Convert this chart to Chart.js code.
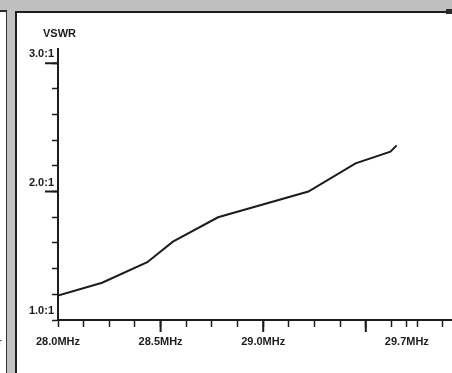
<!DOCTYPE html>
<html>
<head>
<meta charset="utf-8">
<title>VSWR</title>
<script src="https://cdn.jsdelivr.net/npm/chart.js@4/dist/chart.umd.min.js"></script>
<style>
    html, body { margin: 0; padding: 0; background: #fff; }
    #marco { position: relative; width: 452px; height: 373px; overflow: hidden; background: #fff; }
    /* franja gris de arriba y columna gris de la izquierda */
    #arriba { position: absolute; left: 0; top: 0; width: 452px; height: 11px; background: #bfbfbf; }
    #lineaIzq { position: absolute; left: 0; top: 10px; width: 7px; height: 2px; background: #2a2a2a; }
    #columna { position: absolute; left: 6px; top: 11px; width: 8px; height: 362px; background: #c2c2c2;
               border-left: 1px solid #333; border-right: 2px solid #1e1e1e; }
    #lineaArriba { position: absolute; left: 15px; top: 11px; width: 432px; height: 2px; background: #1e1e1e; }
    #esquina { position: absolute; left: 446px; top: 9px; width: 6px; height: 5px; background: #2a2a2a; }
    #resto { position: absolute; left: -2px; top: 336px; font: 11px "Liberation Sans", Arial, sans-serif; color: #222; }
    #lienzo { position: absolute; left: 0; top: 0; width: 452px; height: 373px; }
</style>
</head>
<body>
<div id="marco">
    <div id="arriba"></div>
    <div id="lineaIzq"></div>
    <div id="columna"></div>
    <div id="lineaArriba"></div>
    <div id="esquina"></div>
    <div id="resto">r</div>
    <div id="lienzo"><canvas id="grafico"></canvas></div>
</div>
<script>
// datos de la curva (MHz y VSWR)
const frecuencias = [28.0, 28.215, 28.435, 28.56, 28.78, 29.22, 29.45, 29.62, 29.65];
const vswr = [1.19, 1.29, 1.45, 1.61, 1.80, 2.00, 2.22, 2.31, 2.36];

// marcas de los ejes
const marcasX = [28.0, 28.125, 28.25, 28.375, 28.5, 28.625, 28.75, 28.875, 29.0,
                 29.125, 29.25, 29.375, 29.5, 29.625, 29.7, 29.75, 29.875];
const etiquetasX = [28.0, 28.5, 29.0, 29.7];
const marcasY = [1.0, 1.2, 1.4, 1.6, 1.8, 2.0, 2.2, 2.4, 2.6, 2.8, 3.0];
const etiquetasY = [1.0, 2.0, 3.0];
// las rayitas largas
const largasX = [28.5, 29.0, 29.5];
const largasY = [2.0, 3.0];

const tinta = "#1c1c1c";
const letra = { family: "'Liberation Sans', Arial, sans-serif", size: 11, weight: "bold" };

function esta(lista, v) {
    return lista.some(x => Math.abs(x - v) < 1e-6);
}

// pinta las rayas largas de los ejes y el titulo del eje Y
const extras = {
    id: "extras",
    afterDraw(chart) {
        const ctx = chart.ctx;
        const sx = chart.scales.x;
        const sy = chart.scales.y;
        ctx.save();
        ctx.strokeStyle = tinta;
        ctx.lineWidth = 2;
        ctx.beginPath();
        largasX.forEach(v => {
            let px = sx.getPixelForValue(v);
            ctx.moveTo(px, sx.top);
            ctx.lineTo(px, sx.top + 12);
        });
        largasY.forEach(v => {
            let py = sy.getPixelForValue(v);
            ctx.moveTo(sy.right, py);
            ctx.lineTo(sy.right - 13, py);
        });
        ctx.stroke();

        // "VSWR" encima del eje
        ctx.fillStyle = tinta;
        ctx.font = "bold 11px 'Liberation Sans', Arial, sans-serif";
        ctx.textAlign = "left";
        ctx.textBaseline = "alphabetic";
        ctx.fillText("VSWR", chart.chartArea.left - 15, chart.chartArea.top - 12);
        ctx.restore();
    }
};

let puntos = frecuencias.map((f, i) => ({ x: f, y: vswr[i] }));

let chart = new Chart(document.getElementById("grafico"), {
    type: "line",
    data: {
        datasets: [{
            data: puntos,
            borderColor: tinta,
            borderWidth: 2,
            pointRadius: 0,
            tension: 0,
            fill: false
        }]
    },
    options: {
        responsive: true,
        maintainAspectRatio: false,
        animation: false,
        layout: { padding: { left: 0, top: 49, right: 0, bottom: 0 } },
        plugins: {
            legend: { display: false },
            tooltip: { enabled: false },
            title: { display: false }
        },
        scales: {
            x: {
                type: "linear",
                min: 28.0,
                max: 29.92,
                afterBuildTicks: s => { s.ticks = marcasX.map(v => ({ value: v })); },
                afterFit: s => { s.height = 53; },
                border: { display: true, color: tinta, width: 2 },
                grid: { drawOnChartArea: false, drawTicks: true, tickLength: 7, tickColor: tinta, tickWidth: 1.5 },
                ticks: {
                    autoSkip: false,
                    maxRotation: 0,
                    padding: 8,
                    color: tinta,
                    font: letra,
                    callback: v => esta(etiquetasX, v) ? v.toFixed(1) + "MHz" : ""
                }
            },
            y: {
                type: "linear",
                min: 1.0,
                max: 3.11,
                afterBuildTicks: s => { s.ticks = marcasY.map(v => ({ value: v })); },
                afterFit: s => { s.width = 58; },
                border: { display: true, color: tinta, width: 2 },
                grid: { drawOnChartArea: false, drawTicks: true, tickLength: 6, tickColor: tinta, tickWidth: 1.5 },
                ticks: {
                    padding: -2,
                    labelOffset: -9,
                    color: tinta,
                    font: letra,
                    callback: v => esta(etiquetasY, v) ? v.toFixed(1) + ":1" : ""
                }
            }
        }
    },
    plugins: [extras]
});
</script>
</body>
</html>
